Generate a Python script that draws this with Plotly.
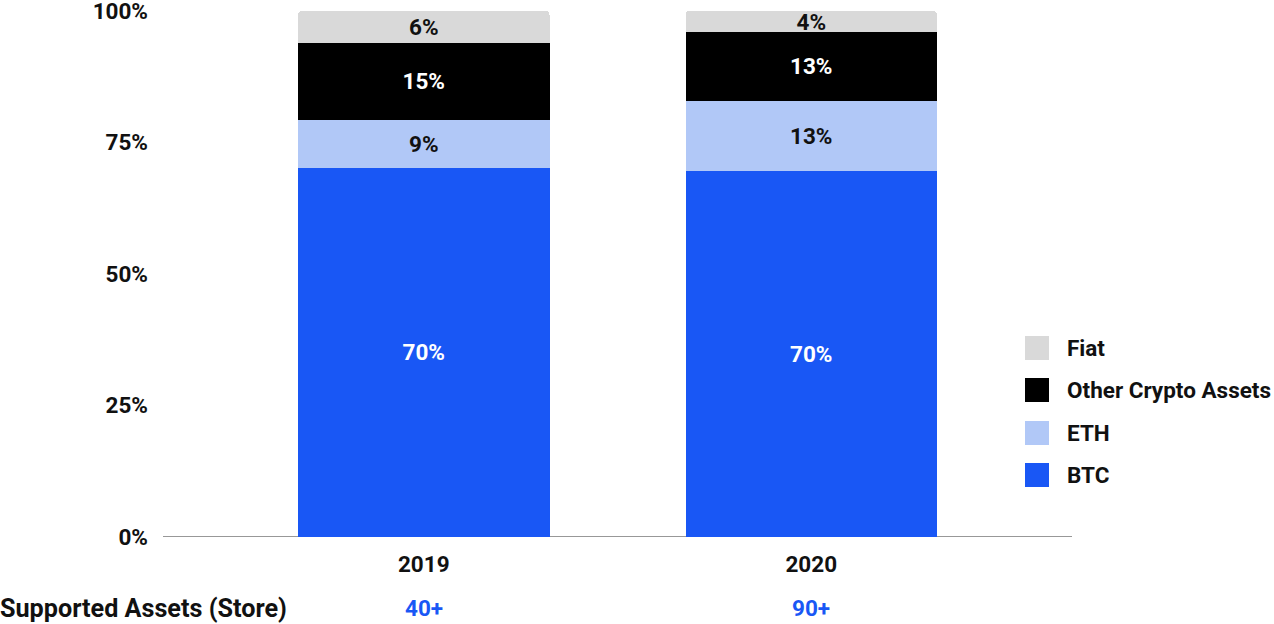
import plotly.graph_objects as go

years = ["2019", "2020"]
series_names = ["BTC", "ETH", "Other Crypto Assets", "Fiat"]
btc = [70.2, 69.6]
eth = [9.1, 13.3]
other = [14.6, 13.1]
fiat = [6.1, 4.0]
supported_assets = ["40+", "90+"]
y_ticks = [0, 25, 50, 75, 100]
y_tick_labels = ["0%", "25%", "50%", "75%", "100%"]

colors = ["#1957F5", "#B1C8F7", "#000000", "#D9D9D9"]
text_colors = ["#FFFFFF", "#111111", "#FFFFFF", "#111111"]
values = [btc, eth, other, fiat]

FONT = "Roboto"
FS = 22.5
fig = go.Figure()
for name, vals, col, tcol in zip(series_names, values, colors, text_colors):
    fig.add_trace(go.Bar(
        x=years, y=vals, name=name,
        marker=dict(color=col, line=dict(width=0)),
        width=0.649,
        texttemplate="%{y:.0f}%",
        textposition="inside",
        insidetextanchor="middle",
        textfont=dict(color=tcol, size=FS, family=FONT, weight="bold"),
        showlegend=False,
        hoverinfo="skip",
    ))

plot_top, plot_bottom = 11, 537
plot_left, plot_right = 163, 1072
pw = plot_right - plot_left
ph = plot_bottom - plot_top
def py(p):
    return (plot_bottom - p) / ph
def px(p):
    return (p - plot_left) / pw

# legend drawn as squares + labels (top to bottom: Fiat, Other, ETH, BTC)
leg_y = [475, 433, 390, 348]
for name, col, yy in zip(series_names, colors, leg_y):
    fig.add_shape(type="rect", xref="paper", yref="paper",
                  x0=px(1025), x1=px(1049), y0=py(yy + 12), y1=py(yy - 12),
                  fillcolor=col, line=dict(width=0))
    fig.add_annotation(xref="paper", yref="paper", x=px(1065), y=py(yy),
                       text=name, showarrow=False, xanchor="left", yanchor="middle",
                       font=dict(size=FS, color="#111111", family=FONT, weight="bold"))

fig.add_annotation(xref="paper", yref="paper", x=px(-2), y=py(608),
                   text="Supported Assets (Store)", showarrow=False,
                   xanchor="left", yanchor="middle",
                   font=dict(size=25.2, color="#111111", family=FONT, weight="bold"))
for i, sa in enumerate(supported_assets):
    fig.add_annotation(xref="x", yref="paper", x=i, y=py(608),
                       text=sa, showarrow=False, xanchor="center", yanchor="middle",
                       font=dict(size=FS, color="#1957F5", family=FONT, weight="bold"))

fig.update_layout(
    width=1274, height=624,
    barmode="stack",
    barcornerradius=4,
    paper_bgcolor="white", plot_bgcolor="white",
    margin=dict(l=plot_left, r=1274 - plot_right, t=plot_top, b=624 - plot_bottom, pad=0,
                autoexpand=False),
    font=dict(family=FONT, size=FS, color="#111111", weight="bold"),
    uniformtext=dict(minsize=FS, mode="show"),
    xaxis=dict(type="category", range=[-0.673, 1.673], showgrid=False, showline=False,
               zeroline=False, ticks="", ticklabelstandoff=11, automargin=False,
               tickfont=dict(size=FS, family=FONT, weight="bold", color="#111111"),
               fixedrange=True),
    yaxis=dict(range=[0, 100], tickvals=y_ticks, ticktext=y_tick_labels,
               showgrid=False, zeroline=False, showline=False, ticks="",
               ticklabelstandoff=14, ticklabeloverflow="allow", automargin=False,
               tickfont=dict(size=FS, family=FONT, weight="bold", color="#111111"),
               fixedrange=True),
)
fig.add_shape(type="line", xref="paper", yref="y", x0=0, x1=1, y0=0, y1=0,
              line=dict(color="#333333", width=1.2), layer="below")

fig.write_html("out.html", config={"displayModeBar": False},
               post_script="document.body.style.margin='0';")
